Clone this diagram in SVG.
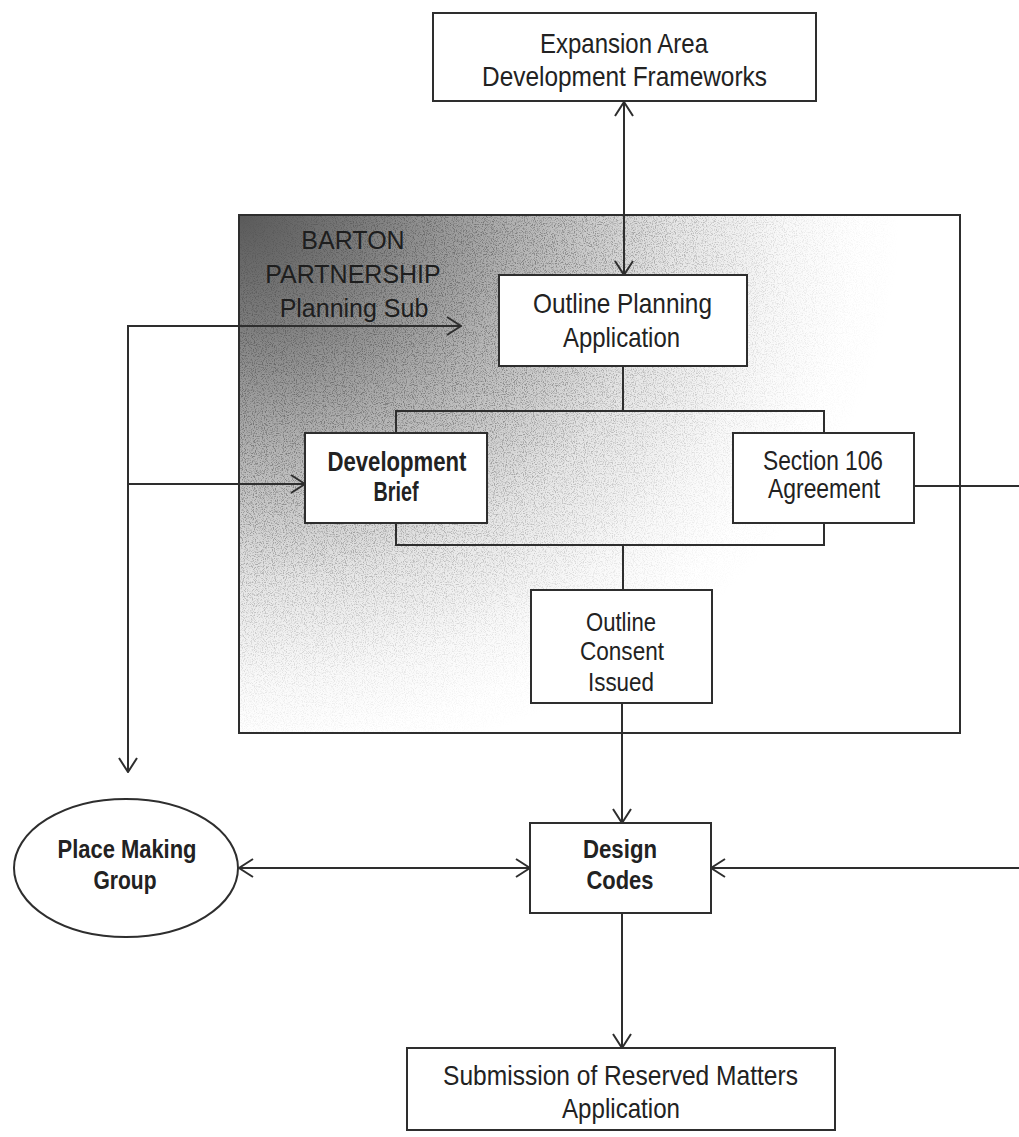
<svg xmlns="http://www.w3.org/2000/svg" width="1019" height="1137" viewBox="0 0 1019 1137">
  <style>
    .box { fill: #ffffff; stroke: #2e2e2e; stroke-width: 2; }
    .frame { fill: none; stroke: #2e2e2e; stroke-width: 2; }
    .t { font-family: "Liberation Sans Narrow", "Liberation Sans", Arial, sans-serif; font-size: 28px; fill: #222; text-anchor: middle; }
    .b { font-weight: bold; }
    .s { font-size: 26px; }
    .lbl { font-family: "Liberation Sans", Arial, sans-serif; font-size: 25px; fill: #1e1e1e; text-anchor: middle; }
    .c { fill: none; stroke: #2e2e2e; stroke-width: 2; }
    .arr { marker-end: url(#ah); }
    .both { marker-start: url(#ah); marker-end: url(#ah); }
  </style>
  <defs>
    <marker id="ah" viewBox="0 0 16 20" refX="15" refY="10" markerWidth="16" markerHeight="20" markerUnits="userSpaceOnUse" orient="auto-start-reverse">
      <path d="M1,1 L15,10 L1,19" fill="none" stroke="#2e2e2e" stroke-width="2"/>
    </marker>
    <radialGradient id="shade" gradientUnits="userSpaceOnUse" cx="240" cy="214" r="620" gradientTransform="matrix(1 0 0 0.85 0 32)">
      <stop offset="0" stop-color="#5a5a5a"/>
      <stop offset="0.2" stop-color="#7c7c7c"/>
      <stop offset="0.45" stop-color="#b4b4b4"/>
      <stop offset="0.7" stop-color="#e6e6e6"/>
      <stop offset="0.88" stop-color="#f9f9f9"/>
      <stop offset="1" stop-color="#ffffff"/>
    </radialGradient>
    <radialGradient id="speckMask" gradientUnits="userSpaceOnUse" cx="240" cy="214" r="660" gradientTransform="matrix(1 0 0 0.85 0 32)">
      <stop offset="0" stop-color="#000" stop-opacity="0.9"/>
      <stop offset="0.5" stop-color="#000" stop-opacity="0.55"/>
      <stop offset="0.85" stop-color="#000" stop-opacity="0.12"/>
      <stop offset="1" stop-color="#000" stop-opacity="0"/>
    </radialGradient>
    <filter id="speck" x="0" y="0" width="100%" height="100%">
      <feTurbulence type="fractalNoise" baseFrequency="0.9" numOctaves="2" seed="4" result="n"/>
      <feColorMatrix in="n" type="matrix" values="0 0 0 0 0.1  0 0 0 0 0.1  0 0 0 0 0.1  4 0 0 0 -1.9" result="a"/>
      <feComposite in="a" in2="SourceGraphic" operator="in"/>
    </filter>
  </defs>

  <!-- Barton Partnership planning sub-group area -->
  <g id="barton-partnership">
    <rect x="239" y="215" width="721" height="518" fill="url(#shade)"/>
    <rect x="239" y="215" width="721" height="518" fill="url(#speckMask)" filter="url(#speck)"/>
    <rect class="frame" x="239" y="215" width="721" height="518"/>
    <text class="lbl" x="353" y="249">BARTON</text>
    <text class="lbl" x="353" y="283">PARTNERSHIP</text>
    <text class="lbl" x="354" y="317">Planning Sub</text>
  </g>

  <g id="inner-group">
    <rect class="frame" x="396" y="411" width="428" height="134"/>
  </g>

  <g id="connectors">
    <line class="c both" x1="624" y1="102" x2="624" y2="275"/>
    <line class="c" x1="623" y1="366" x2="623" y2="411"/>
    <line class="c" x1="623" y1="545" x2="623" y2="590"/>
    <line class="c arr" x1="622" y1="703" x2="622" y2="823"/>
    <line class="c arr" x1="622" y1="913" x2="622" y2="1048"/>
    <line class="c both" x1="239" y1="868" x2="530" y2="868"/>
    <line class="c arr" x1="1019" y1="868" x2="711" y2="868"/>
    <line class="c" x1="914" y1="486" x2="1019" y2="486"/>
    <path class="c both" d="M461,326 L128,326 L128,772"/>
    <line class="c arr" x1="128" y1="484" x2="305" y2="484"/>
  </g>

  <g id="expansion-area">
    <rect class="box" x="433" y="13" width="383" height="88"/>
    <text class="t" x="624" y="53" textLength="168" lengthAdjust="spacingAndGlyphs">Expansion Area</text>
    <text class="t" x="624.5" y="86" textLength="285" lengthAdjust="spacingAndGlyphs">Development Frameworks</text>
  </g>

  <g id="outline-planning">
    <rect class="box" x="499" y="275" width="248" height="91"/>
    <text class="t" x="622.5" y="313" textLength="179" lengthAdjust="spacingAndGlyphs">Outline Planning</text>
    <text class="t" x="621.5" y="347" textLength="117" lengthAdjust="spacingAndGlyphs">Application</text>
  </g>

  <g id="development-brief">
    <rect class="box" x="305" y="433" width="182" height="90"/>
    <text class="t b" x="397" y="471" textLength="139" lengthAdjust="spacingAndGlyphs">Development</text>
    <text class="t b" x="396" y="501" textLength="45" lengthAdjust="spacingAndGlyphs">Brief</text>
  </g>

  <g id="section-106">
    <rect class="box" x="733" y="433" width="181" height="90"/>
    <text class="t" x="823" y="470" textLength="120" lengthAdjust="spacingAndGlyphs">Section 106</text>
    <text class="t" x="824" y="498" textLength="112" lengthAdjust="spacingAndGlyphs">Agreement</text>
  </g>

  <g id="outline-consent">
    <rect class="box" x="531" y="590" width="181" height="113"/>
    <text class="t s" x="621" y="631" textLength="70" lengthAdjust="spacingAndGlyphs">Outline</text>
    <text class="t s" x="622" y="660" textLength="84" lengthAdjust="spacingAndGlyphs">Consent</text>
    <text class="t s" x="621" y="691" textLength="66" lengthAdjust="spacingAndGlyphs">Issued</text>
  </g>

  <g id="design-codes">
    <rect class="box" x="530" y="823" width="181" height="90"/>
    <text class="t s b" x="620" y="858" textLength="74" lengthAdjust="spacingAndGlyphs">Design</text>
    <text class="t s b" x="620" y="889" textLength="67" lengthAdjust="spacingAndGlyphs">Codes</text>
  </g>

  <g id="place-making-group">
    <ellipse class="box" cx="126" cy="868" rx="112" ry="69"/>
    <text class="t s b" x="127" y="858" textLength="139" lengthAdjust="spacingAndGlyphs">Place Making</text>
    <text class="t s b" x="125" y="889" textLength="63" lengthAdjust="spacingAndGlyphs">Group</text>
  </g>

  <g id="reserved-matters">
    <rect class="box" x="407" y="1048" width="428" height="82"/>
    <text class="t" x="620.5" y="1085" textLength="355" lengthAdjust="spacingAndGlyphs">Submission of Reserved Matters</text>
    <text class="t" x="621" y="1118" textLength="118" lengthAdjust="spacingAndGlyphs">Application</text>
  </g>
</svg>
